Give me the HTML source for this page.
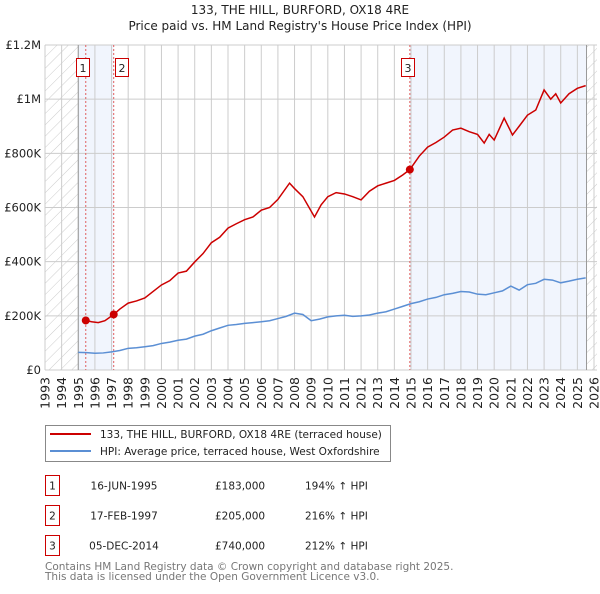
<!DOCTYPE html>
<html><head><meta charset="utf-8"><style>
body{margin:0;background:#fff;font-family:"DejaVu Sans","Liberation Sans",sans-serif;}
svg text{font-family:"DejaVu Sans","Liberation Sans",sans-serif;}
</style></head><body>
<svg id="chart" width="600" height="590" xmlns="http://www.w3.org/2000/svg">
<defs><pattern id="hatch" width="8" height="8" patternUnits="userSpaceOnUse" patternTransform="rotate(45)"><line x1="0" y1="0" x2="0" y2="8" stroke="#ccc" stroke-width="1"/></pattern></defs>
<text x="300" y="14" text-anchor="middle" font-size="12" fill="#222">133, THE HILL, BURFORD, OX18 4RE</text>
<text x="300" y="30" text-anchor="middle" font-size="12" fill="#222">Price paid vs. HM Land Registry's House Price Index (HPI)</text>
<g id="plot"></g>
<g>
<rect x="45.5" y="425.5" width="345" height="36" fill="#fff" stroke="#888"/>
<line x1="50" y1="434" x2="91" y2="434" stroke="#cc0000" stroke-width="2"/>
<text x="100" y="438" font-size="10.5" fill="#222">133, THE HILL, BURFORD, OX18 4RE (terraced house)</text>
<line x1="50" y1="451" x2="91" y2="451" stroke="#5b8fd4" stroke-width="2"/>
<text x="100" y="455" font-size="10.5" fill="#222">HPI: Average price, terraced house, West Oxfordshire</text>
</g>
<g id="table" font-size="10.5" fill="#222"></g>
<text x="45" y="570" font-size="10.5" fill="#777">Contains HM Land Registry data © Crown copyright and database right 2025.</text>
<text x="45" y="580" font-size="10.5" fill="#777">This data is licensed under the Open Government Licence v3.0.</text>
</svg>
<script>
const hpiYears=[1995,1995.5,1996,1996.5,1997,1997.5,1998,1998.5,1999,1999.5,2000,2000.5,2001,2001.5,2002,2002.5,2003,2003.5,2004,2004.5,2005,2005.5,2006,2006.5,2007,2007.5,2008,2008.5,2009,2009.5,2010,2010.5,2011,2011.5,2012,2012.5,2013,2013.5,2014,2014.5,2015,2015.5,2016,2016.5,2017,2017.5,2018,2018.5,2019,2019.5,2020,2020.5,2021,2021.5,2022,2022.5,2023,2023.5,2024,2024.5,2025,2025.5];
const hpiValues=[65,64,62,63,67,72,80,82,86,90,98,103,110,114,125,132,145,155,165,168,172,175,178,182,190,198,210,205,182,188,196,200,202,198,200,203,210,215,225,235,245,252,262,268,278,283,290,288,280,278,285,292,310,295,315,320,335,332,322,328,335,340];
const saleYears=[1995.45,1997.13,2014.93];
const saleValues=[183,205,740];
const saleLabels=["1","2","3"];
const saleDates=["16-JUN-1995","17-FEB-1997","05-DEC-2014"];
const salePrices=["£183,000","£205,000","£740,000"];
const salePct=["194% ↑ HPI","216% ↑ HPI","212% ↑ HPI"];
const redYears=[1995.45,1995.8,1996.2,1996.6,1997.13,1997.5,1998,1998.5,1999,1999.5,2000,2000.5,2001,2001.5,2002,2002.5,2003,2003.5,2004,2004.5,2005,2005.5,2006,2006.5,2007,2007.7,2008,2008.5,2009.2,2009.6,2010,2010.5,2011,2011.5,2012,2012.5,2013,2013.5,2014,2014.5,2014.93,2015.5,2016,2016.5,2017,2017.5,2018,2018.5,2019,2019.4,2019.7,2020,2020.6,2021.1,2021.5,2022,2022.5,2023,2023.4,2023.7,2024,2024.5,2025,2025.5];
const redValues=[183,178,175,182,205,225,247,255,266,290,314,330,358,365,399,430,470,490,524,540,555,565,590,600,630,690,670,640,565,610,640,655,650,640,628,660,680,690,700,720,740,790,823,840,860,886,893,880,870,838,870,849,930,868,900,941,960,1034,1000,1020,986,1020,1040,1050];
const yTicks=[0,200,400,600,800,1000,1200];
const yTickLabels=["£0","£200K","£400K","£600K","£800K","£1M","£1.2M"];
const xTicks=[];for(let y=1993;y<=2026;y++)xTicks.push(y);

const X0=45,X1=594,Y0=370,Y1=45;
const xs=v=>X0+(v-1993)*(X1-X0)/33;
const ys=v=>Y0-v*(Y0-Y1)/1200;
const NS="http://www.w3.org/2000/svg";
const plot=document.getElementById('plot');
function mk(tag,attrs,parent){const e=document.createElementNS(NS,tag);for(const k in attrs)e.setAttribute(k,attrs[k]);(parent||plot).appendChild(e);return e;}
let r=mk('rect',{x:xs(1995),y:Y1,width:xs(saleYears[1])-xs(1995),height:Y0-Y1,fill:'#eef3fc',opacity:0.8});

r=mk('rect',{x:xs(saleYears[2]),y:Y1,width:xs(2025.55)-xs(saleYears[2]),height:Y0-Y1,fill:'#eef3fc',opacity:0.8});

r=mk('rect',{x:X0,y:Y1,width:xs(1995)-X0,height:Y0-Y1,fill:'url(#hatch)'});

r=mk('rect',{x:xs(2025.55),y:Y1,width:X1+3-xs(2025.55),height:Y0-Y1,fill:'url(#hatch)'});

xTicks.forEach((t,i)=>{
 const g=mk('line',{x1:xs(t),x2:xs(t),y1:Y1,y2:Y0,stroke:'#ccc','stroke-width':1});
 
 const tx=mk('text',{x:0,y:0,'font-size':12.5,fill:'#222','text-anchor':'end',transform:`translate(${xs(t)+4.5},${Y0+7}) rotate(-90)`});
 tx.textContent=t;
 
});
yTicks.forEach((t,i)=>{
 const g=mk('line',{x1:X0,x2:X1+3,y1:ys(t),y2:ys(t),stroke:'#ccc','stroke-width':1});
 
 const tx=mk('text',{x:X0-4,y:ys(t)+4,'font-size':11.5,fill:'#222','text-anchor':'end'});
 tx.textContent=yTickLabels[i];
 
});
let l=mk('line',{x1:xs(1995),x2:xs(1995),y1:Y1,y2:Y0,stroke:'#999'});

l=mk('line',{x1:xs(2025.55),x2:xs(2025.55),y1:Y1,y2:Y0,stroke:'#999'});

const boxOff=[-10,1.5,-9];
saleYears.forEach((s,i)=>{
 const v=mk('line',{x1:xs(s),x2:xs(s),y1:Y1,y2:Y0,stroke:'#e06060','stroke-dasharray':'2,2','stroke-width':1});
 
 const bx=Math.round(xs(s)+boxOff[i]);
 const b=mk('rect',{x:bx+0.5,y:58.5,width:13,height:18,fill:'#fff',stroke:'#cc0000'});
 
 const t=mk('text',{x:bx+7,y:72,'font-size':11,'text-anchor':'middle',fill:'#222'});
 t.textContent=saleLabels[i];
 
});
let p=mk('polyline',{points:hpiYears.map((y,i)=>xs(y)+','+ys(hpiValues[i])).join(' '),fill:'none',stroke:'#5b8fd4','stroke-width':1.5});

p=mk('polyline',{points:redYears.map((y,i)=>xs(y)+','+ys(redValues[i])).join(' '),fill:'none',stroke:'#cc0000','stroke-width':1.5});

saleYears.forEach((s,i)=>{
 const c=mk('circle',{cx:xs(s),cy:ys(saleValues[i]),r:4,fill:'#cc0000'});
 
});
const tb=document.getElementById('table');
saleLabels.forEach((lab,i)=>{
 const y=486+i*30;
 const b=mk('rect',{x:45.5,y:y-10.5,width:14,height:20,fill:'#fff',stroke:'#cc0000'},tb);
 
 const cols=[[52.5,lab,'middle'],[124,saleDates[i],'middle'],[215,salePrices[i],'start'],[305,salePct[i],'start']];
 cols.forEach(c=>{const t=mk('text',{x:c[0],y:y+3.5,'text-anchor':c[2]},tb);t.textContent=c[1];
  });
});
</script>
</body></html>
